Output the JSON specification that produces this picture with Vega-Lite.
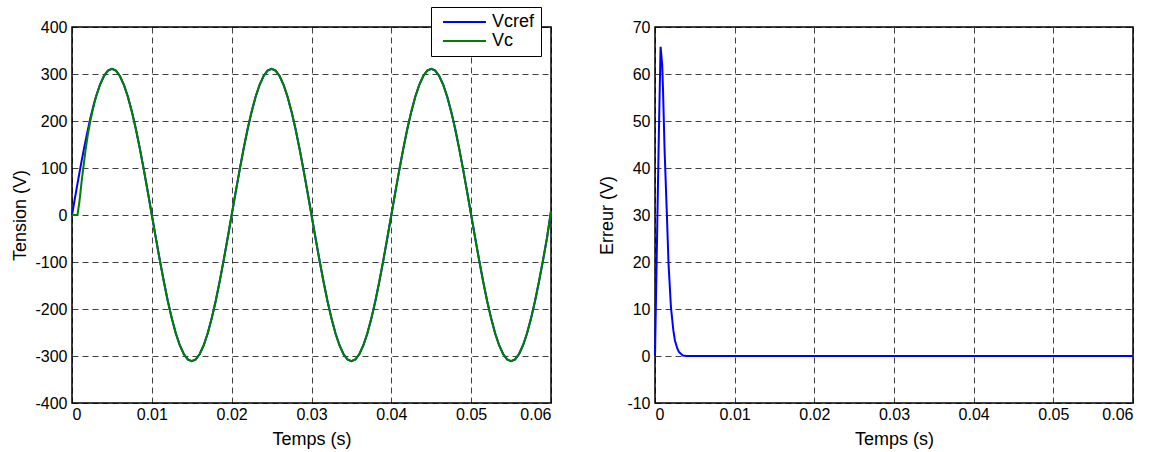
{
  "$schema": "https://vega.github.io/schema/vega-lite/v6.json",
  "padding": {"left": 11, "top": 6, "right": 5, "bottom": 5},
  "background": "white",
  "spacing": 104,
  "bounds": "flush",
  "config": {
    "font": "Liberation Sans",
    "view": {"stroke": "black", "strokeWidth": 1.5},
    "axis": {
      "labelFont": "Liberation Sans", "labelFontSize": 16, "labelColor": "black",
      "titleFont": "Liberation Sans", "titleFontSize": 18, "titleFontWeight": "normal", "titleColor": "black",
      "gridColor": "black", "gridDash": [6, 4], "gridOpacity": 0.75, "gridWidth": 1,
      "domain": false, "ticks": false, "labelExpr": "'' + datum.value"
    },
    "axisX": {"labelPadding": 3, "titlePadding": 8},
    "axisY": {"labelPadding": 5}
  },
  "datasets": {
    "tension": [
      {"t":0,"Vcref":0,"Vc":0},
      {"t":0.00025,"Vcref":24.4,"Vc":0},
      {"t":0.0005,"Vcref":48.7,"Vc":0},
      {"t":0.0007,"Vcref":67.8,"Vc":2},
      {"t":0.0009,"Vcref":86.8,"Vc":24.8},
      {"t":0.001,"Vcref":96.1,"Vc":39.1},
      {"t":0.0012,"Vcref":114.5,"Vc":70.5},
      {"t":0.0015,"Vcref":141.2,"Vc":111.6},
      {"t":0.0017,"Vcref":158.3,"Vc":138.7},
      {"t":0.002,"Vcref":182.8,"Vc":172.4},
      {"t":0.0023,"Vcref":205.7,"Vc":200.2},
      {"t":0.0025,"Vcref":219.9,"Vc":216.6},
      {"t":0.0028,"Vcref":239.7,"Vc":238.1},
      {"t":0.003,"Vcref":251.6,"Vc":250.8},
      {"t":0.0035,"Vcref":277.1,"Vc":277.0},
      {"t":0.004,"Vcref":295.8,"Vc":295.8},
      {"t":0.0045,"Vcref":307.2,"Vc":307.2},
      {"t":0.005,"Vcref":311,"Vc":311},
      {"t":0.0055,"Vcref":307.2,"Vc":307.2},
      {"t":0.006,"Vcref":295.8,"Vc":295.8},
      {"t":0.0065,"Vcref":277.1,"Vc":277.1},
      {"t":0.007,"Vcref":251.6,"Vc":251.6},
      {"t":0.0075,"Vcref":219.9,"Vc":219.9},
      {"t":0.008,"Vcref":182.8,"Vc":182.8},
      {"t":0.0085,"Vcref":141.2,"Vc":141.2},
      {"t":0.009,"Vcref":96.1,"Vc":96.1},
      {"t":0.0095,"Vcref":48.7,"Vc":48.7},
      {"t":0.01,"Vcref":0,"Vc":0},
      {"t":0.0105,"Vcref":-48.7,"Vc":-48.7},
      {"t":0.011,"Vcref":-96.1,"Vc":-96.1},
      {"t":0.0115,"Vcref":-141.2,"Vc":-141.2},
      {"t":0.012,"Vcref":-182.8,"Vc":-182.8},
      {"t":0.0125,"Vcref":-219.9,"Vc":-219.9},
      {"t":0.013,"Vcref":-251.6,"Vc":-251.6},
      {"t":0.0135,"Vcref":-277.1,"Vc":-277.1},
      {"t":0.014,"Vcref":-295.8,"Vc":-295.8},
      {"t":0.0145,"Vcref":-307.2,"Vc":-307.2},
      {"t":0.015,"Vcref":-311,"Vc":-311},
      {"t":0.0155,"Vcref":-307.2,"Vc":-307.2},
      {"t":0.016,"Vcref":-295.8,"Vc":-295.8},
      {"t":0.0165,"Vcref":-277.1,"Vc":-277.1},
      {"t":0.017,"Vcref":-251.6,"Vc":-251.6},
      {"t":0.0175,"Vcref":-219.9,"Vc":-219.9},
      {"t":0.018,"Vcref":-182.8,"Vc":-182.8},
      {"t":0.0185,"Vcref":-141.2,"Vc":-141.2},
      {"t":0.019,"Vcref":-96.1,"Vc":-96.1},
      {"t":0.0195,"Vcref":-48.7,"Vc":-48.7},
      {"t":0.02,"Vcref":0,"Vc":0},
      {"t":0.0205,"Vcref":48.7,"Vc":48.7},
      {"t":0.021,"Vcref":96.1,"Vc":96.1},
      {"t":0.0215,"Vcref":141.2,"Vc":141.2},
      {"t":0.022,"Vcref":182.8,"Vc":182.8},
      {"t":0.0225,"Vcref":219.9,"Vc":219.9},
      {"t":0.023,"Vcref":251.6,"Vc":251.6},
      {"t":0.0235,"Vcref":277.1,"Vc":277.1},
      {"t":0.024,"Vcref":295.8,"Vc":295.8},
      {"t":0.0245,"Vcref":307.2,"Vc":307.2},
      {"t":0.025,"Vcref":311,"Vc":311},
      {"t":0.0255,"Vcref":307.2,"Vc":307.2},
      {"t":0.026,"Vcref":295.8,"Vc":295.8},
      {"t":0.0265,"Vcref":277.1,"Vc":277.1},
      {"t":0.027,"Vcref":251.6,"Vc":251.6},
      {"t":0.0275,"Vcref":219.9,"Vc":219.9},
      {"t":0.028,"Vcref":182.8,"Vc":182.8},
      {"t":0.0285,"Vcref":141.2,"Vc":141.2},
      {"t":0.029,"Vcref":96.1,"Vc":96.1},
      {"t":0.0295,"Vcref":48.7,"Vc":48.7},
      {"t":0.03,"Vcref":0,"Vc":0},
      {"t":0.0305,"Vcref":-48.7,"Vc":-48.7},
      {"t":0.031,"Vcref":-96.1,"Vc":-96.1},
      {"t":0.0315,"Vcref":-141.2,"Vc":-141.2},
      {"t":0.032,"Vcref":-182.8,"Vc":-182.8},
      {"t":0.0325,"Vcref":-219.9,"Vc":-219.9},
      {"t":0.033,"Vcref":-251.6,"Vc":-251.6},
      {"t":0.0335,"Vcref":-277.1,"Vc":-277.1},
      {"t":0.034,"Vcref":-295.8,"Vc":-295.8},
      {"t":0.0345,"Vcref":-307.2,"Vc":-307.2},
      {"t":0.035,"Vcref":-311,"Vc":-311},
      {"t":0.0355,"Vcref":-307.2,"Vc":-307.2},
      {"t":0.036,"Vcref":-295.8,"Vc":-295.8},
      {"t":0.0365,"Vcref":-277.1,"Vc":-277.1},
      {"t":0.037,"Vcref":-251.6,"Vc":-251.6},
      {"t":0.0375,"Vcref":-219.9,"Vc":-219.9},
      {"t":0.038,"Vcref":-182.8,"Vc":-182.8},
      {"t":0.0385,"Vcref":-141.2,"Vc":-141.2},
      {"t":0.039,"Vcref":-96.1,"Vc":-96.1},
      {"t":0.0395,"Vcref":-48.7,"Vc":-48.7},
      {"t":0.04,"Vcref":0,"Vc":0},
      {"t":0.0405,"Vcref":48.7,"Vc":48.7},
      {"t":0.041,"Vcref":96.1,"Vc":96.1},
      {"t":0.0415,"Vcref":141.2,"Vc":141.2},
      {"t":0.042,"Vcref":182.8,"Vc":182.8},
      {"t":0.0425,"Vcref":219.9,"Vc":219.9},
      {"t":0.043,"Vcref":251.6,"Vc":251.6},
      {"t":0.0435,"Vcref":277.1,"Vc":277.1},
      {"t":0.044,"Vcref":295.8,"Vc":295.8},
      {"t":0.0445,"Vcref":307.2,"Vc":307.2},
      {"t":0.045,"Vcref":311,"Vc":311},
      {"t":0.0455,"Vcref":307.2,"Vc":307.2},
      {"t":0.046,"Vcref":295.8,"Vc":295.8},
      {"t":0.0465,"Vcref":277.1,"Vc":277.1},
      {"t":0.047,"Vcref":251.6,"Vc":251.6},
      {"t":0.0475,"Vcref":219.9,"Vc":219.9},
      {"t":0.048,"Vcref":182.8,"Vc":182.8},
      {"t":0.0485,"Vcref":141.2,"Vc":141.2},
      {"t":0.049,"Vcref":96.1,"Vc":96.1},
      {"t":0.0495,"Vcref":48.7,"Vc":48.7},
      {"t":0.05,"Vcref":0,"Vc":0},
      {"t":0.0505,"Vcref":-48.7,"Vc":-48.7},
      {"t":0.051,"Vcref":-96.1,"Vc":-96.1},
      {"t":0.0515,"Vcref":-141.2,"Vc":-141.2},
      {"t":0.052,"Vcref":-182.8,"Vc":-182.8},
      {"t":0.0525,"Vcref":-219.9,"Vc":-219.9},
      {"t":0.053,"Vcref":-251.6,"Vc":-251.6},
      {"t":0.0535,"Vcref":-277.1,"Vc":-277.1},
      {"t":0.054,"Vcref":-295.8,"Vc":-295.8},
      {"t":0.0545,"Vcref":-307.2,"Vc":-307.2},
      {"t":0.055,"Vcref":-311,"Vc":-311},
      {"t":0.0555,"Vcref":-307.2,"Vc":-307.2},
      {"t":0.056,"Vcref":-295.8,"Vc":-295.8},
      {"t":0.0565,"Vcref":-277.1,"Vc":-277.1},
      {"t":0.057,"Vcref":-251.6,"Vc":-251.6},
      {"t":0.0575,"Vcref":-219.9,"Vc":-219.9},
      {"t":0.058,"Vcref":-182.8,"Vc":-182.8},
      {"t":0.0585,"Vcref":-141.2,"Vc":-141.2},
      {"t":0.059,"Vcref":-96.1,"Vc":-96.1},
      {"t":0.0595,"Vcref":-48.7,"Vc":-48.7},
      {"t":0.06,"Vcref":8,"Vc":8}
    ],
    "erreur": [
      {"t":0,"e":0},
      {"t":0.00025,"e":24.4},
      {"t":0.0005,"e":48.7},
      {"t":0.0007,"e":65.8},
      {"t":0.0009,"e":62},
      {"t":0.001,"e":57},
      {"t":0.0012,"e":44},
      {"t":0.0015,"e":29.6},
      {"t":0.0017,"e":19.6},
      {"t":0.002,"e":10.4},
      {"t":0.0023,"e":5.5},
      {"t":0.0025,"e":3.3},
      {"t":0.0028,"e":1.6},
      {"t":0.003,"e":0.85},
      {"t":0.0035,"e":0.1},
      {"t":0.004,"e":0},
      {"t":0.06,"e":0}
    ]
  },
  "hconcat": [
    {
      "width": 479,
      "height": 376,
      "data": {"name": "tension"},
      "transform": [{"fold": ["Vcref", "Vc"], "as": ["serie", "valeur"]}],
      "mark": {"type": "line", "strokeWidth": 2},
      "encoding": {
        "x": {"field": "t", "type": "quantitative", "scale": {"domain": [0, 0.06], "nice": false},
              "axis": {"title": "Temps (s)", "values": [0, 0.01, 0.02, 0.03, 0.04, 0.05, 0.06]}},
        "y": {"field": "valeur", "type": "quantitative", "scale": {"domain": [-400, 400], "nice": false},
              "axis": {"title": "Tension (V)", "values": [-400, -300, -200, -100, 0, 100, 200, 300, 400], "titlePadding": 5}},
        "color": {"field": "serie", "type": "nominal",
                  "scale": {"domain": ["Vcref", "Vc"], "range": ["#0000ff", "#008000"]},
                  "legend": {"orient": "none", "legendX": 359, "legendY": -20, "title": null,
                             "fillColor": "white", "strokeColor": "black", "padding": 6,
                             "symbolType": "M-0.6,0H8", "symbolSize": 100, "symbolStrokeWidth": 2,
                             "symbolFillColor": "transparent",
                             "labelFontSize": 18, "labelFont": "Liberation Sans", "labelColor": "black",
                             "labelOffset": 37, "rowPadding": 1}}
      }
    },
    {
      "width": 478,
      "height": 376,
      "data": {"name": "erreur"},
      "mark": {"type": "line", "strokeWidth": 2, "color": "#0000ff"},
      "encoding": {
        "x": {"field": "t", "type": "quantitative", "scale": {"domain": [0, 0.06], "nice": false},
              "axis": {"title": "Temps (s)", "values": [0, 0.01, 0.02, 0.03, 0.04, 0.05, 0.06]}},
        "y": {"field": "e", "type": "quantitative", "scale": {"domain": [-10, 70], "nice": false},
              "axis": {"title": "Erreur (V)", "values": [-10, 0, 10, 20, 30, 40, 50, 60, 70], "titlePadding": 10}}
      }
    }
  ]
}
